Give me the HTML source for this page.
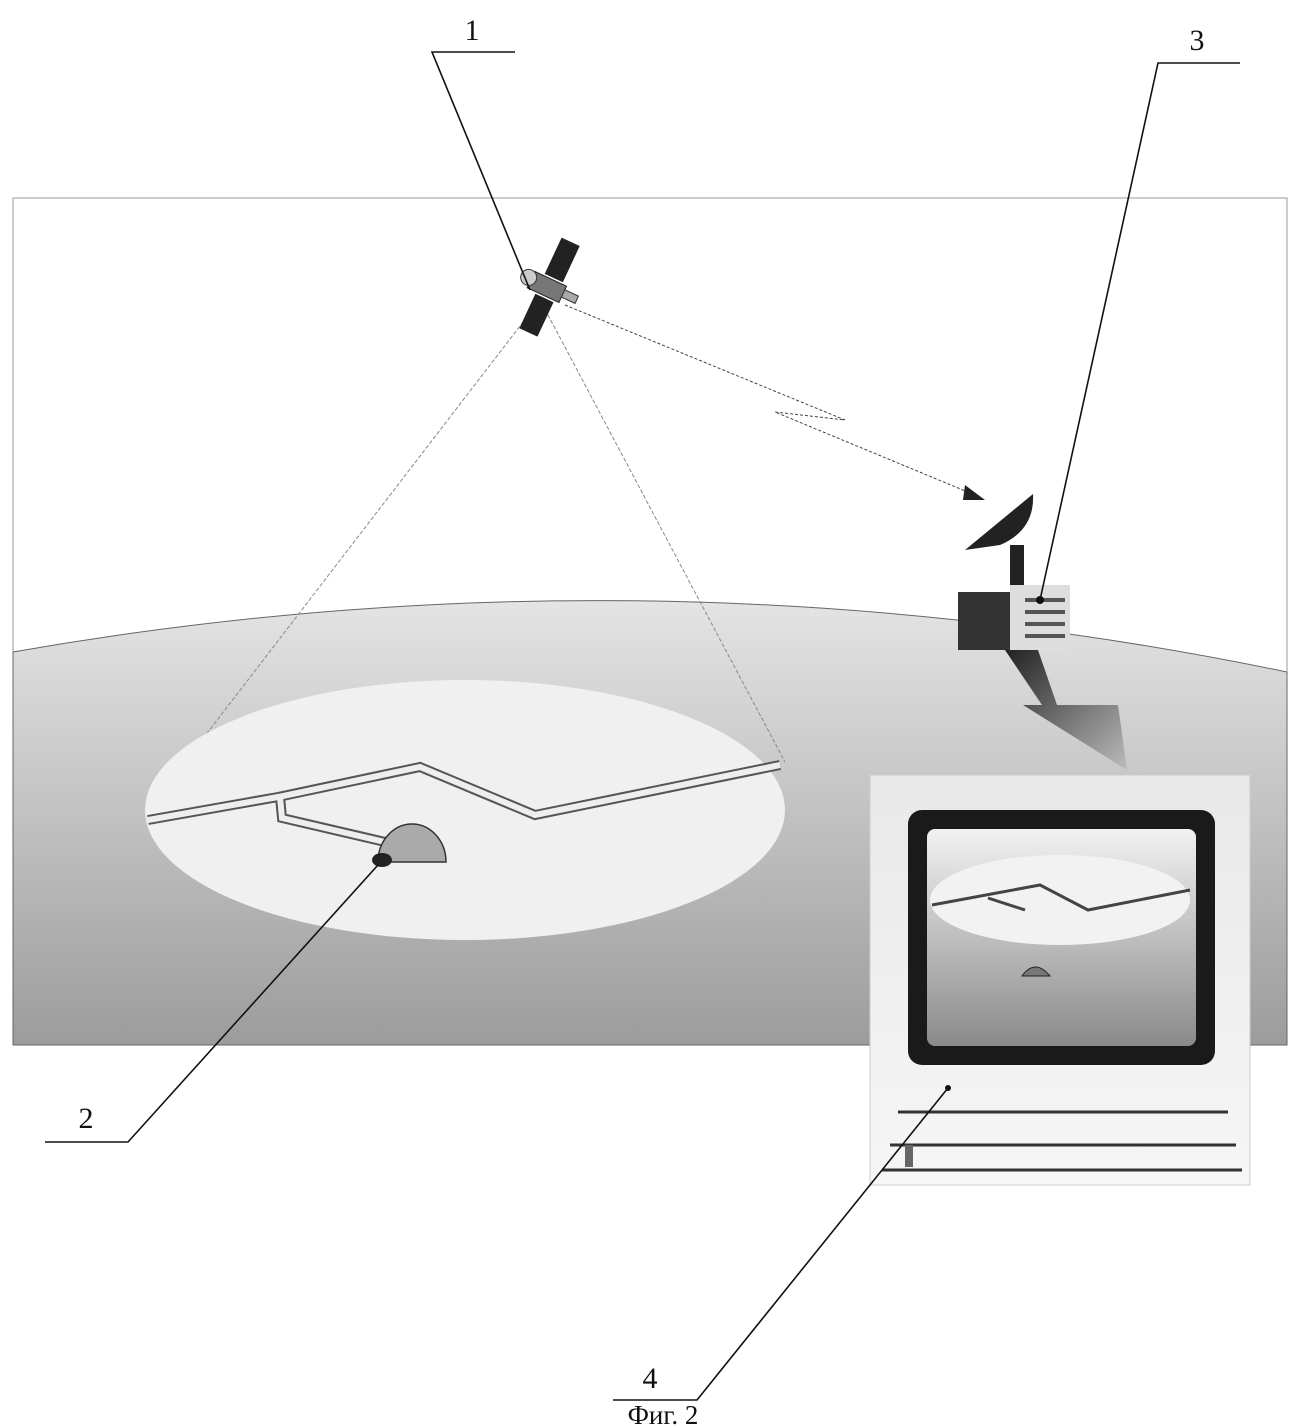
<!DOCTYPE html>
<html><head><meta charset="utf-8"><style>html,body{margin:0;padding:0;background:#fff}svg{display:block}</style></head><body>
<svg width="1299" height="1428" viewBox="0 0 1299 1428" xmlns="http://www.w3.org/2000/svg" font-family="Liberation Serif, serif">
<defs>
<linearGradient id="earth" x1="0" y1="0" x2="0" y2="1"><stop offset="0" stop-color="#e4e4e4"/><stop offset="1" stop-color="#9c9c9c"/></linearGradient>
<linearGradient id="scr" x1="0" y1="0" x2="0" y2="1"><stop offset="0" stop-color="#f2f2f2"/><stop offset="1" stop-color="#8a8a8a"/></linearGradient>
<linearGradient id="mon" x1="0" y1="0" x2="0" y2="1"><stop offset="0" stop-color="#e8e8e8"/><stop offset="1" stop-color="#f6f6f6"/></linearGradient>
<linearGradient id="arr" x1="0" y1="0" x2="1" y2="1"><stop offset="0" stop-color="#222"/><stop offset="1" stop-color="#bbb"/></linearGradient>
</defs>
<rect x="13" y="198" width="1274" height="847" fill="#fff" stroke="#999" stroke-width="1"/>
<path d="M13 652 Q650 540 1287 672 L1287 1045 L13 1045 Z" fill="url(#earth)" stroke="#666" stroke-width="1"/>
<path d="M148 810 L540 300 L785 762" fill="none" stroke="#888" stroke-width="1" stroke-dasharray="4 2"/>
<ellipse cx="465" cy="810" rx="320" ry="130" fill="#f0f0f0"/>
<g fill="none" stroke-linejoin="miter">
<path d="M148 820 L278 797 L420 767 L535 815 L780 765 M280 797 L282 818 L385 842" stroke="#555" stroke-width="10"/>
<path d="M148 820 L278 797 L420 767 L535 815 L780 765 M280 797 L282 818 L385 842" stroke="#eee" stroke-width="6"/>
</g>
<path d="M378 862 A34 38 0 0 1 446 862 Z" fill="#aaa" stroke="#333" stroke-width="1.5"/>
<ellipse cx="382" cy="860" rx="10" ry="7" fill="#222"/>
<g transform="translate(545,285) rotate(25)">
<rect x="-15" y="-8" width="35" height="18" fill="#777" stroke="#222"/>
<rect x="-5" y="-50" width="20" height="40" fill="#222"/>
<rect x="-5" y="12" width="20" height="38" fill="#222"/>
<circle cx="-18" cy="0" r="8" fill="#ccc" stroke="#333"/>
<rect x="20" y="-4" width="15" height="8" fill="#aaa" stroke="#333"/>
</g>
<path d="M565 305 L845 420 L775 412 L975 495" fill="none" stroke="#444" stroke-width="1" stroke-dasharray="3 2"/>
<polygon points="965,485 985,500 963,500" fill="#222"/>
<path d="M965 550 L1033 494 Q1035 530 1000 545 Z" fill="#222"/>
<rect x="1010" y="545" width="14" height="45" fill="#222"/>
<rect x="958" y="592" width="52" height="58" fill="#333"/>
<rect x="1010" y="585" width="60" height="65" fill="#ddd"/>
<g stroke="#555" stroke-width="4"><line x1="1025" y1="600" x2="1065" y2="600"/><line x1="1025" y1="612" x2="1065" y2="612"/><line x1="1025" y1="624" x2="1065" y2="624"/><line x1="1025" y1="636" x2="1065" y2="636"/></g>
<polygon points="1005,650 1038,650 1057,705 1118,705 1127,770 1023,705 1042,705" fill="url(#arr)"/>
<rect x="870" y="775" width="380" height="410" fill="url(#mon)" stroke="#ccc"/>
<rect x="908" y="810" width="307" height="255" rx="14" fill="#1a1a1a"/>
<rect x="927" y="829" width="269" height="217" rx="8" fill="url(#scr)"/>
<ellipse cx="1060" cy="900" rx="130" ry="45" fill="#f2f2f2"/>
<path d="M932 905 L1040 885 L1088 910 L1190 890 M988 898 L1025 910" fill="none" stroke="#444" stroke-width="3"/>
<path d="M1022 976 Q1035 958 1050 976 Z" fill="#777" stroke="#222"/>
<line x1="898" y1="1112" x2="1228" y2="1112" stroke="#333" stroke-width="3"/>
<line x1="890" y1="1145" x2="1236" y2="1145" stroke="#333" stroke-width="3"/>
<line x1="882" y1="1170" x2="1242" y2="1170" stroke="#333" stroke-width="3"/>
<rect x="905" y="1145" width="8" height="22" fill="#666"/>
<g stroke="#111" stroke-width="1.6" fill="none">
<path d="M515 52 L432 52 L530 290"/>
<path d="M1240 63 L1158 63 L1040 600"/>
<path d="M45 1142 L128 1142 L378 865"/>
<path d="M613 1400 L697 1400 L948 1088"/>
</g>
<circle cx="1040" cy="600" r="4" fill="#111"/>
<circle cx="948" cy="1088" r="3" fill="#111"/>
<g font-size="30" fill="#111" text-anchor="middle">
<text x="472" y="40">1</text>
<text x="1197" y="50">3</text>
<text x="86" y="1128">2</text>
<text x="650" y="1388">4</text>
<text x="663" y="1424" font-size="27">Фиг. 2</text>
</g>
</svg>
</body></html>
